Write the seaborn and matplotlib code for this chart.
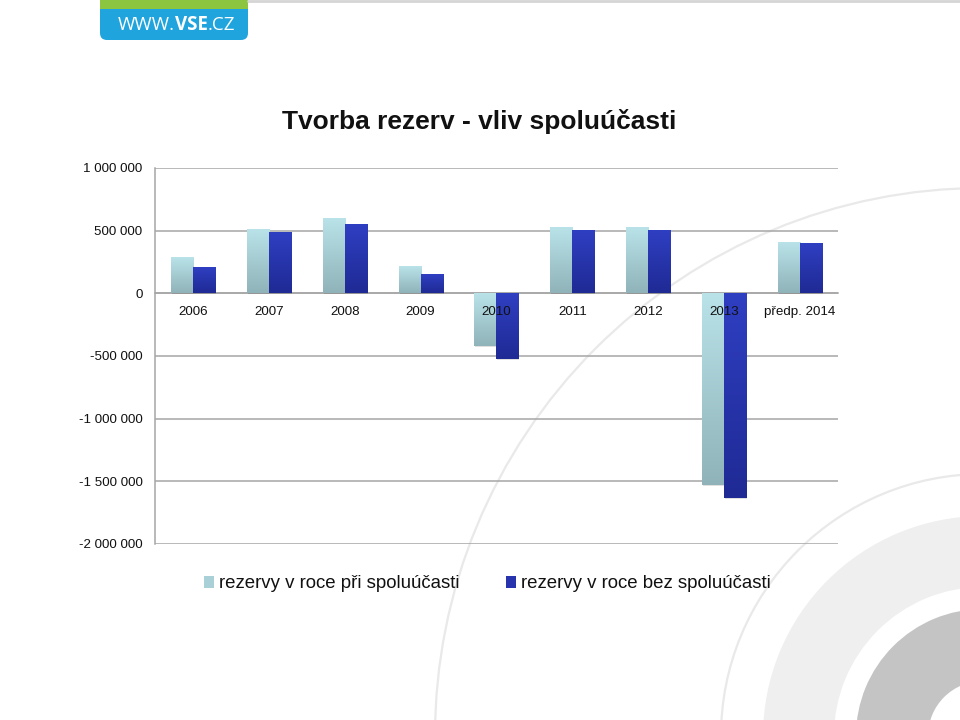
import numpy as np
import pandas as pd
import matplotlib
matplotlib.use("Agg")
import matplotlib.pyplot as plt
import seaborn as sns
from matplotlib.patches import Wedge, Circle, Rectangle, FancyBboxPatch
from matplotlib.colors import LinearSegmentedColormap
from matplotlib.ticker import FuncFormatter, MultipleLocator

# ---------------- data ----------------
years = ["2006", "2007", "2008", "2009", "2010", "2011", "2012", "2013", "předp. 2014"]
s_pri = [280000, 510000, 595000, 210000, -420000, 525000, 520000, -1530000, 405000]
s_bez = [200000, 485000, 550000, 145000, -520000, 500000, 500000, -1635000, 395000]
series_names = ["rezervy v roce při spoluúčasti", "rezervy v roce bez spoluúčasti"]
title = "Tvorba rezerv - vliv spoluúčasti"

df = pd.DataFrame({
    "rok": years * 2,
    "hodnota": s_pri + s_bez,
    "serie": [series_names[0]] * len(years) + [series_names[1]] * len(years),
})

sns.set_theme(style="white")
plt.rcParams["font.family"] = ["Liberation Sans", "DejaVu Sans"]

W, H = 960, 720
fig = plt.figure(figsize=(W / 100, H / 100), dpi=100)
fig.patch.set_facecolor("white")

# ---------------- background decoration ----------------
bg = fig.add_axes([0, 0, 1, 1], zorder=0)
bg.set_xlim(0, W)
bg.set_ylim(H, 0)
bg.axis("off")
cx, cy = 983, 736
bg.add_patch(Circle((cx, cy), 548, fill=False, ec="#e9e9e9", lw=1.6))
bg.add_patch(Circle((cx, cy), 262, fill=False, ec="#e9e9e9", lw=1.6))
bg.add_patch(Wedge((cx, cy), 220, 0, 360, width=71, fc="#efefef", ec="none"))
bg.add_patch(Wedge((cx, cy), 127, 0, 360, width=72, fc="#c4c4c4", ec="none"))
# top separator line
bg.plot([248, W], [1, 1], color="#d5d5d5", lw=2)
# logo
bg.add_patch(FancyBboxPatch((100, -12), 148, 52, boxstyle="round,pad=0,rounding_size=7",
                            fc="#20a4dd", ec="none"))
bg.add_patch(Rectangle((100, 0), 148, 9, fc="#8cc53f", ec="none"))

logo_parts = [("WWW.", "normal"), ("VSE", "bold"), (".CZ", "normal")]
fig.canvas.draw()
renderer = fig.canvas.get_renderer()
x_cur = 118
for txt, wt in logo_parts:
    t = bg.text(x_cur, 25, txt, color="white", fontsize=13.5, fontweight=wt,
                family=["Open Sans", "DejaVu Sans"], ha="left", va="center")
    bb = t.get_window_extent(renderer=renderer)
    x_cur += bb.width

# ---------------- main chart ----------------
ax = fig.add_axes([155 / W, 1 - 544 / H, (838 - 155) / W, (544 - 168) / H], zorder=1)
ax.set_facecolor("none")

light_top, light_bot = "#b9e3e9", "#8fb3b8"
dark_top, dark_bot = "#2f3fc2", "#1f2a94"

sns.barplot(data=df, x="rok", y="hodnota", hue="serie", hue_order=series_names,
            palette=["#a8d0d6", "#2834ad"], width=0.58, ax=ax, saturation=1,
            edgecolor="none", linewidth=0)

ax.set_xlim(-0.5, len(years) - 0.5)
ax.set_ylim(-2000000, 1000000)

# gradients on bars
cmap_l = LinearSegmentedColormap.from_list("l", [light_top, light_bot])
cmap_d = LinearSegmentedColormap.from_list("d", [dark_top, dark_bot])
grad = np.linspace(0, 1, 256).reshape(-1, 1)
bars = [p for p in ax.patches if isinstance(p, Rectangle) and p.get_width() > 0]
for i, p in enumerate(bars):
    x0 = p.get_x()
    w = p.get_width()
    y0 = p.get_y()
    h = p.get_height()
    if h == 0:
        continue
    ylo, yhi = min(y0, y0 + h), max(y0, y0 + h)
    cm = cmap_l if i < len(years) else cmap_d
    # shadow
    ax.add_patch(Rectangle((x0 + 0.012, ylo - 9000), w, yhi - ylo, fc="#000000",
                           alpha=0.12, ec="none", zorder=1.9))
    ax.imshow(grad, cmap=cm, aspect="auto", origin="upper",
              extent=[x0, x0 + w, ylo, yhi], zorder=2.1, interpolation="bilinear")
    p.set_zorder(2)

ax.set_xlim(-0.5, len(years) - 0.5)
ax.set_ylim(-2000000, 1000000)

# axes styling
ax.yaxis.set_major_locator(MultipleLocator(500000))
ax.yaxis.set_major_formatter(FuncFormatter(lambda v, pos: f"{int(round(v)):,}".replace(",", " ")))
ax.grid(axis="y", color="#a6a6a6", lw=1.1)
ax.grid(axis="x", visible=False)
ax.set_axisbelow(True)
ax.xaxis.set_zorder(5)  # category labels drawn above the bars
for s in ["top", "right"]:
    ax.spines[s].set_visible(False)
ax.spines["left"].set_color("#a6a6a6")
ax.spines["left"].set_linewidth(1.1)
ax.spines["bottom"].set_position(("data", 0))
ax.spines["bottom"].set_color("#a6a6a6")
ax.spines["bottom"].set_linewidth(1.1)
ax.spines["bottom"].set_zorder(1.5)
ax.tick_params(axis="x", length=0, pad=9, labelsize=9.6, labelcolor="#111111")
ax.tick_params(axis="y", length=0, pad=9, labelsize=9.6, labelcolor="#111111")
ax.set_xlabel("")
ax.set_ylabel("")

# legend
handles, labels = ax.get_legend_handles_labels()
ax.legend(handles, labels, loc="center", bbox_to_anchor=(487 / W, 1 - 584 / H),
          bbox_transform=fig.transFigure, ncol=2, frameon=False, fontsize=13.4,
          handlelength=0.55, handleheight=0.55, handletextpad=0.25, columnspacing=2.5,
          labelcolor="#111111")

# title
fig.text(479 / W, 1 - 122 / H, title, ha="center", va="center", fontsize=19,
         fontweight="bold", color="#111111")

fig.savefig("out.png", dpi=100, facecolor="white")
